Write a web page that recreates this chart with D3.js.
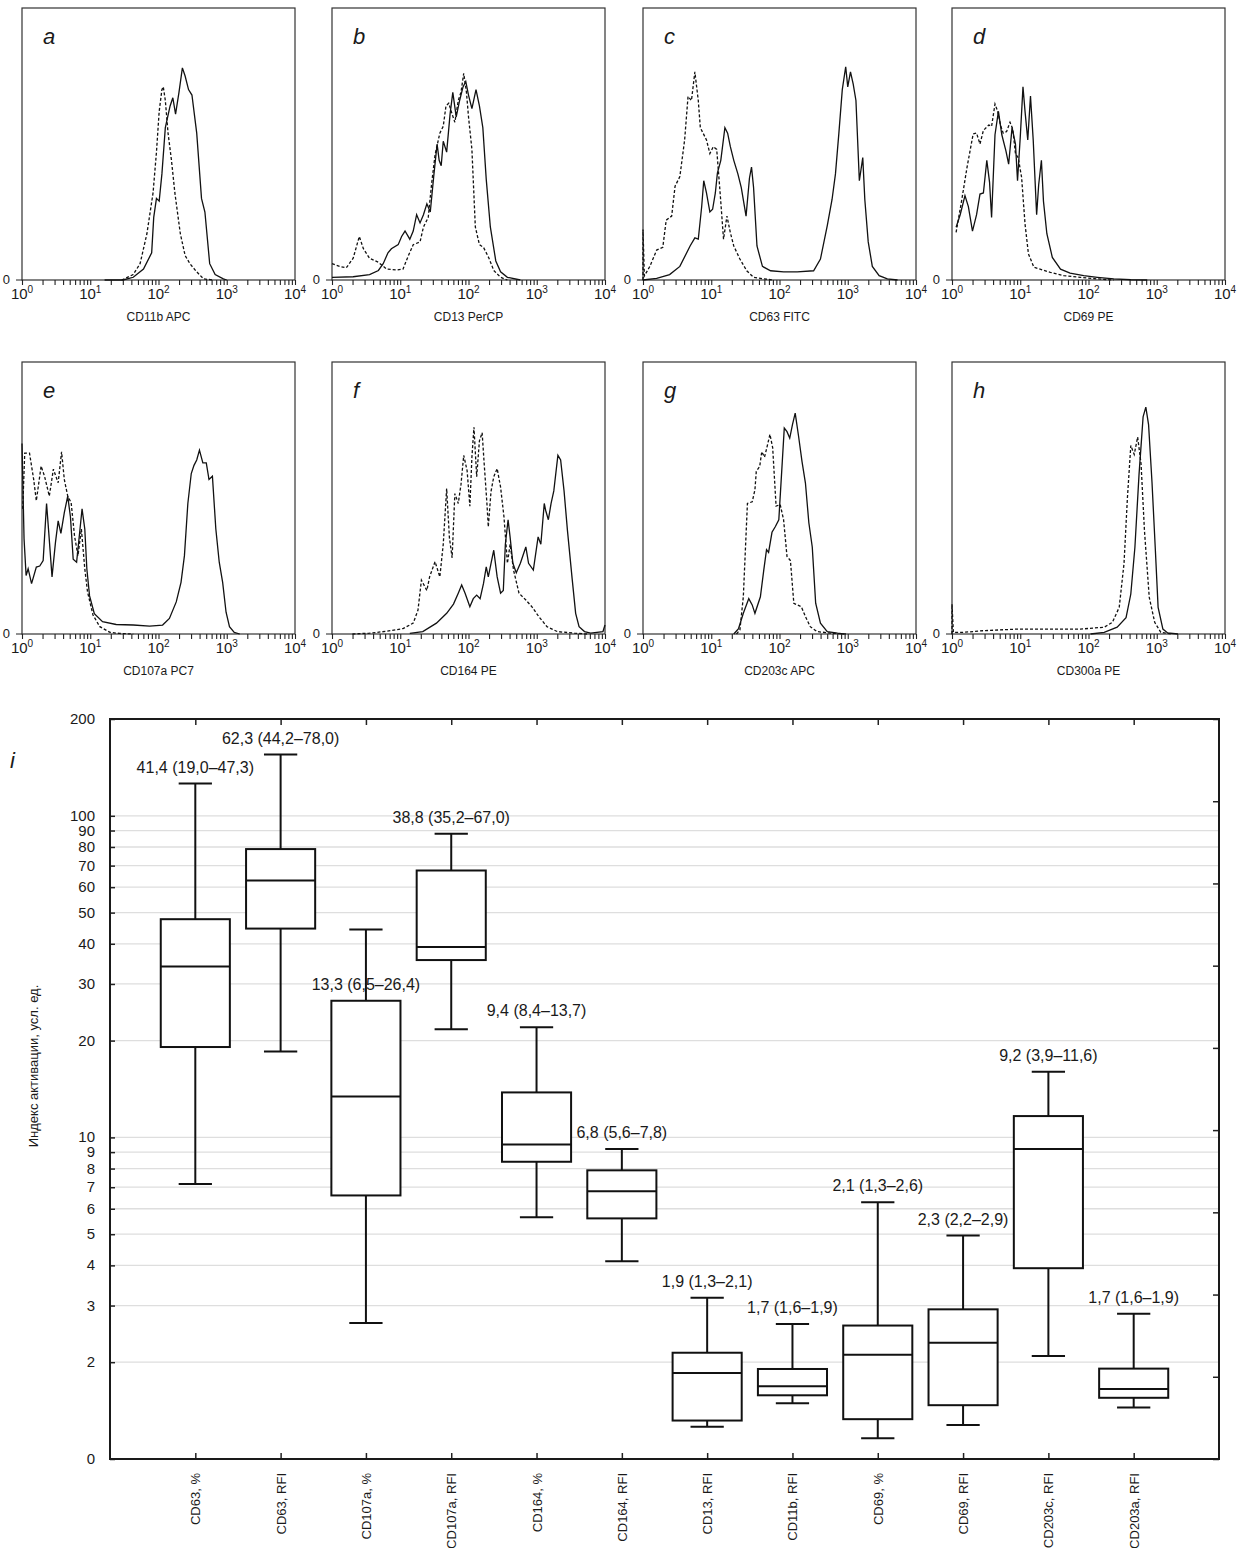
<!DOCTYPE html>
<html>
<head>
<meta charset="utf-8">
<script src="https://cdn.jsdelivr.net/npm/d3@7"></script>
<style>
  body { margin: 0; background: #fff; }
  svg { display: block; }
  text { font-family: "Liberation Sans Narrow", "Liberation Sans", Arial, sans-serif; fill: #1a1a1a; }
</style>
</head>
<body>
<div id="chart"></div>
<script>
// Histogram curves: [position in decades (log10 of intensity), height in % of panel]
const aSolid = [[1.21,0],[1.48,0],[1.63,1],[1.78,4],[1.90,10],[1.93,23],[1.97,30],[2.01,29],[2.05,39],[2.10,56],[2.17,64],[2.21,67],[2.25,61],[2.30,69],[2.35,78],[2.39,75],[2.44,70],[2.49,68],[2.56,54],[2.63,30],[2.68,25],[2.75,6],[2.83,2],[2.95,0.4],[3.0,0]];
const aDashed = [[1.46,0],[1.63,2],[1.73,6],[1.83,17],[1.92,32],[1.97,47],[2.01,62],[2.05,70],[2.07,71],[2.10,66],[2.14,54],[2.19,44],[2.24,32],[2.32,17],[2.39,9],[2.46,6],[2.56,3],[2.66,0.4],[2.81,0]];

const bSolid = [[0,1],[0.31,1.2],[0.55,2],[0.68,3.5],[0.75,6],[0.82,10],[0.87,11.5],[0.97,13],[1.02,16],[1.07,18],[1.14,15],[1.19,18],[1.24,24],[1.29,21],[1.34,24],[1.39,28],[1.44,25],[1.49,38],[1.54,50],[1.57,44],[1.60,42],[1.63,51],[1.68,47],[1.73,61],[1.77,69],[1.82,60],[1.87,66],[1.92,71],[1.96,73],[2.00,68],[2.05,63],[2.11,70],[2.16,64],[2.21,56],[2.26,37],[2.32,19.5],[2.40,7],[2.47,3],[2.57,1],[2.76,0]];
const bDashed = [[0,6],[0.11,5],[0.21,4.5],[0.31,8],[0.40,16],[0.46,11.5],[0.55,8],[0.68,6.5],[0.80,4],[0.95,3.7],[1.04,4],[1.12,9],[1.19,13],[1.29,14],[1.34,19.5],[1.41,23],[1.46,35.5],[1.51,46],[1.58,54],[1.63,56.5],[1.67,64],[1.71,65],[1.76,61],[1.80,58],[1.85,66],[1.89,69],[1.93,76],[1.97,69],[2.00,60],[2.05,48],[2.10,19.5],[2.16,13],[2.22,12],[2.30,8],[2.37,3.5],[2.47,1],[2.57,0]];

const cSolid = [[0,0],[0.20,0.6],[0.39,2],[0.54,5],[0.69,12.5],[0.76,15.5],[0.81,15],[0.86,27],[0.89,36.5],[0.93,32],[0.98,25],[1.02,26],[1.06,32],[1.09,39.3],[1.14,44],[1.20,56],[1.24,54],[1.28,49],[1.33,44],[1.39,39],[1.44,34],[1.51,23.5],[1.56,37.5],[1.59,41.5],[1.62,34],[1.67,12.5],[1.75,5],[1.87,3.4],[2.06,3],[2.26,3],[2.50,3.4],[2.60,7.7],[2.70,20],[2.77,29.6],[2.82,39],[2.87,54],[2.92,70],[2.97,78.4],[3.00,71],[3.04,76.5],[3.08,72],[3.12,66],[3.17,36.5],[3.22,45],[3.25,29.6],[3.30,14],[3.36,5],[3.46,1.6],[3.58,0.4],[3.73,0]];
const cDashed = [[0,0],[0,18.6],[0.02,1.5],[0.10,5],[0.20,11],[0.29,12],[0.34,22],[0.42,23.5],[0.47,34.5],[0.54,38],[0.61,51.5],[0.66,67.5],[0.71,66],[0.76,76.5],[0.81,66],[0.84,56],[0.88,54],[0.93,51.5],[0.98,46.5],[1.03,49],[1.08,48],[1.13,32],[1.18,15],[1.23,23.5],[1.28,17.4],[1.33,12.5],[1.42,7.7],[1.52,3.4],[1.62,1],[1.77,0.4],[1.91,0]];

const dSolid = [[0.06,19.4],[0.12,24],[0.19,31],[0.24,27],[0.30,18],[0.36,24],[0.41,31.6],[0.46,32],[0.51,44],[0.55,36],[0.58,23],[0.63,53.4],[0.68,62],[0.73,53.4],[0.79,47.5],[0.83,42.6],[0.88,56],[0.93,50],[0.96,36.5],[1.00,52.5],[1.04,71],[1.07,62],[1.11,51.5],[1.15,67.6],[1.19,51.5],[1.24,24],[1.27,35],[1.31,44],[1.34,29],[1.39,17],[1.47,8.3],[1.59,4],[1.73,2.5],[1.93,1.6],[2.13,1],[2.37,0.4],[2.62,0.1],[2.86,0]];
const dDashed = [[0.06,17.5],[0.14,29],[0.22,41.4],[0.31,53.7],[0.36,54],[0.41,50],[0.46,55],[0.54,57],[0.58,56.5],[0.63,64.7],[0.67,62],[0.71,57],[0.75,54],[0.80,54.6],[0.85,58],[0.89,55.5],[0.93,46.4],[0.97,45],[1.02,37.7],[1.07,20.6],[1.12,9.6],[1.20,4.7],[1.29,4],[1.44,2.8],[1.64,1.6],[1.88,1],[2.13,0.4],[2.37,0]];

const eSolid = [[0,70],[0.03,35],[0.06,21.5],[0.09,24],[0.14,18.5],[0.21,24.6],[0.26,25],[0.31,27],[0.36,48],[0.39,38],[0.44,21],[0.49,33.6],[0.53,41.6],[0.57,37],[0.62,44.6],[0.67,50.7],[0.71,43],[0.75,27.5],[0.80,26.4],[0.85,38.6],[0.88,46],[0.92,38.6],[0.95,24],[0.99,14],[1.06,7.5],[1.18,4.5],[1.38,3.5],[1.63,3.3],[1.87,2.9],[2.06,3.3],[2.16,5.7],[2.26,11.8],[2.33,19],[2.38,28.8],[2.43,48],[2.48,59],[2.52,62],[2.56,64],[2.60,67.6],[2.65,62.9],[2.70,62.9],[2.74,56.8],[2.79,58],[2.84,38.6],[2.89,26.4],[2.94,19],[2.99,8],[3.04,2.7],[3.11,0.6],[3.19,0]];
const eDashed = [[0.01,46],[0.04,66.5],[0.11,66.5],[0.17,57],[0.21,49],[0.28,61.7],[0.33,58],[0.40,50.7],[0.46,60.6],[0.53,55.6],[0.58,67],[0.62,56.8],[0.67,50.7],[0.72,48.3],[0.77,36],[0.82,28.8],[0.87,38.6],[0.92,24],[0.96,15.5],[1.04,7],[1.14,2.7],[1.29,0.6],[1.43,0.2],[1.63,0]];

const fSolid = [[1.14,0.2],[1.33,0.9],[1.53,4],[1.68,7.6],[1.78,11],[1.85,15],[1.90,18],[1.95,15],[2.02,10],[2.07,13],[2.12,14.3],[2.17,13],[2.22,18.6],[2.26,24.7],[2.29,21],[2.33,26],[2.37,30.8],[2.42,21],[2.47,15],[2.51,16],[2.54,33],[2.58,42],[2.61,35.5],[2.65,26],[2.70,22.5],[2.76,26],[2.84,32],[2.88,26],[2.95,23.5],[3.02,35.7],[3.06,33],[3.11,48],[3.13,45.5],[3.17,42],[3.21,48],[3.25,52.6],[3.31,65.7],[3.35,64],[3.40,52.6],[3.45,38],[3.52,20],[3.57,7.6],[3.62,2.7],[3.70,0.9],[3.79,0.3],[3.97,0.9],[4.0,3.3]];
const fDashed = [[0.30,0],[0.55,0.3],[0.80,1],[1.04,2],[1.19,4],[1.26,8.8],[1.31,19.8],[1.39,16],[1.43,21],[1.51,26.6],[1.58,21],[1.63,33],[1.68,53.5],[1.72,35.5],[1.76,28],[1.80,51.6],[1.85,48],[1.89,55],[1.93,65.7],[1.98,60],[2.02,47],[2.05,65],[2.08,76],[2.12,57.8],[2.16,71],[2.20,74],[2.23,62.5],[2.27,48],[2.29,39.4],[2.33,52.4],[2.37,57.8],[2.42,60.8],[2.47,54],[2.52,43],[2.57,26],[2.61,33],[2.66,23.5],[2.74,15],[2.84,12.5],[2.93,10],[3.03,6.4],[3.15,2.7],[3.30,0.9],[3.55,0.3],[3.74,0]];

const gSolid = [[1.33,0],[1.40,2],[1.47,7.6],[1.55,13],[1.60,10.7],[1.64,7.6],[1.72,13.7],[1.77,23.6],[1.81,31],[1.84,30],[1.89,37.4],[1.94,39.5],[1.99,42],[2.04,63],[2.07,75.7],[2.11,74.4],[2.15,72],[2.19,77],[2.23,81.2],[2.28,72.6],[2.33,63.4],[2.38,55.5],[2.43,40.9],[2.48,32],[2.53,11.3],[2.60,4],[2.70,0.9],[2.85,0.3],[2.94,0]];
const gDashed = [[1.37,0],[1.42,1.5],[1.47,13.7],[1.53,48],[1.60,48.6],[1.64,53],[1.66,59.8],[1.71,61.6],[1.74,67],[1.78,65],[1.81,68],[1.86,73.4],[1.90,68.5],[1.95,47],[2.01,47.6],[2.06,42],[2.11,28.5],[2.16,27],[2.21,11.3],[2.26,10.7],[2.32,10],[2.38,6.4],[2.45,2.7],[2.55,0.9],[2.75,0.3],[2.99,0]];

const hSolid = [[2.03,0],[2.23,0.6],[2.42,2.5],[2.55,6],[2.62,14.7],[2.68,31.9],[2.74,58.5],[2.80,79.8],[2.84,83.4],[2.88,77],[2.93,56],[2.98,30.7],[3.02,9.8],[3.09,1.8],[3.16,0.4],[3.31,0]];
const hDashed = [[0,0],[0,11],[0.02,0.6],[0.16,0.6],[0.45,1.2],[0.95,1.8],[1.39,1.8],[1.88,1.8],[2.23,2.5],[2.35,4.3],[2.45,9.8],[2.52,25.8],[2.57,50],[2.62,69.3],[2.67,66],[2.72,72.4],[2.77,62.6],[2.82,38],[2.89,13.5],[2.97,4.3],[3.06,0.6],[3.21,0]];

const panelLetters = ["a","b","c","d","e","f","g","h"];
const panelTitles = ["CD11b APC","CD13 PerCP","CD63 FITC","CD69 PE","CD107a PC7","CD164 PE","CD203c APC","CD300a PE"];
const panelSolid = [aSolid,bSolid,cSolid,dSolid,eSolid,fSolid,gSolid,hSolid];
const panelDashed = [aDashed,bDashed,cDashed,dDashed,eDashed,fDashed,gDashed,hDashed];
const decades = [1,10,100,1000,10000];

// Box plot (panel i)
const categories = ["CD63, %","CD63, RFI","CD107a, %","CD107a, RFI","CD164, %","CD164, RFI","CD13, RFI","CD11b, RFI","CD69, %","CD69, RFI","CD203c, RFI","CD203a, RFI"];
const whiskerHigh = [126,155,44.3,87.9,22,9.2,3.17,2.63,6.29,4.95,16.0,2.83];
const q3 = [47.7,78.8,26.6,67.6,13.8,7.9,2.14,1.905,2.60,2.92,11.65,1.91];
const medians = [34.0,62.9,13.4,39.1,9.5,6.8,1.85,1.685,2.11,2.30,9.2,1.65];
const q1 = [19.1,44.6,6.6,35.6,8.4,5.6,1.317,1.578,1.33,1.47,3.92,1.55];
const whiskerLow = [7.16,18.5,2.65,21.7,5.65,4.12,1.26,1.49,1.16,1.275,2.09,1.446];
const boxLabels = ["41,4 (19,0–47,3)","62,3 (44,2–78,0)","13,3 (6,5–26,4)","38,8 (35,2–67,0)","9,4 (8,4–13,7)","6,8 (5,6–7,8)","1,9 (1,3–2,1)","1,7 (1,6–1,9)","2,1 (1,3–2,6)","2,3 (2,2–2,9)","9,2 (3,9–11,6)","1,7 (1,6–1,9)"];
const yTickValues = [1,2,3,4,5,6,7,8,9,10,20,30,40,50,60,70,80,90,100,200];

const width = 1243;
const height = 1548;

const svg = d3.select('#chart')
    .append('svg')
    .attr('width', width)
    .attr('height', height);

// ---- histograms ----
const colLeft = [22, 332, 643, 952];
const rowTop = [8, 362];
const pw = 273, ph = 272;

const line = (x, y) => d3.line()
    .x(d => x(Math.pow(10, d[0])))
    .y(d => y(d[1]));

panelLetters.forEach((letter, i) => {
    const left = colLeft[i % 4];
    const top = rowTop[Math.floor(i / 4)];
    const x = d3.scaleLog().domain([1, 1e4]).range([left, left + pw]);
    const y = d3.scaleLinear().domain([0, 100]).range([top + ph, top]);
    const g = svg.append('g');

    g.append('rect')
        .attr('x', left).attr('y', top)
        .attr('width', pw).attr('height', ph)
        .attr('fill', 'none')
        .attr('stroke', '#333')
        .attr('stroke-width', 1.2);

    // log axis with minor ticks
    const ax = g.append('g')
        .attr('transform', `translate(0,${top + ph})`)
        .call(d3.axisBottom(x).tickValues(x.ticks()).tickSize(5).tickFormat(''));
    ax.select('.domain').remove();
    ax.selectAll('line').attr('stroke', '#222').attr('stroke-width', 1.1);

    decades.forEach((v, k) => {
        const t = g.append('text')
            .attr('x', x(v))
            .attr('y', top + ph + 19)
            .attr('text-anchor', 'middle')
            .style('font-size', '15px');
        t.append('tspan').text('10');
        t.append('tspan').attr('dy', -6).style('font-size', '10px').text(k);
    });

    // zero on the count axis
    g.append('line')
        .attr('x1', left - 6).attr('x2', left)
        .attr('y1', top + ph).attr('y2', top + ph)
        .attr('stroke', '#222');
    g.append('text')
        .attr('x', left - 12)
        .attr('y', top + ph + 4)
        .attr('text-anchor', 'end')
        .style('font-size', '13px')
        .text('0');

    g.append('text')
        .attr('x', left + pw / 2)
        .attr('y', top + ph + 41)
        .attr('text-anchor', 'middle')
        .style('font-size', '12px')
        .text(panelTitles[i]);

    g.append('text')
        .attr('x', left + 21)
        .attr('y', top + 36)
        .style('font-size', '22px')
        .style('font-style', 'italic')
        .text(letter);

    g.append('path')
        .attr('d', line(x, y)(panelDashed[i]))
        .attr('fill', 'none')
        .attr('stroke', '#111')
        .attr('stroke-width', 1.3)
        .attr('stroke-dasharray', '3,2');

    g.append('path')
        .attr('d', line(x, y)(panelSolid[i]))
        .attr('fill', 'none')
        .attr('stroke', '#111')
        .attr('stroke-width', 1.3);
});

// ---- box plot ----
const bl = 110, br = 1219, bt = 719, bb = 1459;
const bx = d3.scaleLinear().domain([0, categories.length + 1]).range([bl, br]);
const by = d3.scaleLog().domain([1, 200]).range([bb, bt]);
const byRight = d3.scaleLinear().domain([0, 9]).range([bb, bt]);
const step = bx(1) - bx(0);
const boxW = step * 0.81;
const capW = step * 0.39;

const bp = svg.append('g');

// grid
bp.selectAll('line.grid')
    .data(yTickValues.filter(v => v > 1 && v < 200))
    .enter().append('line')
    .attr('class', 'grid')
    .attr('x1', bl).attr('x2', br)
    .attr('y1', d => by(d)).attr('y2', d => by(d))
    .attr('stroke', '#dedede')
    .attr('stroke-width', 1.3);

// left ticks and labels
const leftAxis = bp.append('g')
    .attr('transform', `translate(${bl},0)`)
    .call(d3.axisRight(by).tickValues(yTickValues).tickSize(5).tickFormat(''));
leftAxis.select('.domain').remove();
leftAxis.selectAll('line').attr('stroke', '#222').attr('stroke-width', 1.5);

bp.selectAll('text.ylab')
    .data(yTickValues)
    .enter().append('text')
    .attr('class', 'ylab')
    .attr('x', bl - 15)
    .attr('y', d => by(d) + 5)
    .attr('text-anchor', 'end')
    .style('font-size', '15px')
    .text(d => d === 1 ? '0' : d);

// right ticks
const rightAxis = bp.append('g')
    .attr('transform', `translate(${br},0)`)
    .call(d3.axisLeft(byRight).ticks(9).tickSize(6).tickFormat(''));
rightAxis.select('.domain').remove();
rightAxis.selectAll('line').attr('stroke', '#222').attr('stroke-width', 1.5);

// top / bottom category ticks
const catIdx = d3.range(1, categories.length + 1);
const topAxis = bp.append('g')
    .attr('transform', `translate(0,${bt})`)
    .call(d3.axisBottom(bx).tickValues(catIdx).tickSize(6).tickFormat(''));
topAxis.select('.domain').remove();
topAxis.selectAll('line').attr('stroke', '#222').attr('stroke-width', 1.5);
const botAxis = bp.append('g')
    .attr('transform', `translate(0,${bb})`)
    .call(d3.axisTop(bx).tickValues(catIdx).tickSize(6).tickFormat(''));
botAxis.select('.domain').remove();
botAxis.selectAll('line').attr('stroke', '#222').attr('stroke-width', 1.5);

bp.append('rect')
    .attr('x', bl).attr('y', bt)
    .attr('width', br - bl).attr('height', bb - bt)
    .attr('fill', 'none')
    .attr('stroke', '#1a1a1a')
    .attr('stroke-width', 2);

// boxes
categories.forEach((c, i) => {
    const cx = bx(i + 1);
    const g = bp.append('g').attr('stroke', '#111').attr('stroke-width', 2).attr('fill', 'none');
    g.append('line').attr('x1', cx).attr('x2', cx).attr('y1', by(whiskerHigh[i])).attr('y2', by(q3[i]));
    g.append('line').attr('x1', cx).attr('x2', cx).attr('y1', by(q1[i])).attr('y2', by(whiskerLow[i]));
    g.append('line').attr('x1', cx - capW / 2).attr('x2', cx + capW / 2).attr('y1', by(whiskerHigh[i])).attr('y2', by(whiskerHigh[i]));
    g.append('line').attr('x1', cx - capW / 2).attr('x2', cx + capW / 2).attr('y1', by(whiskerLow[i])).attr('y2', by(whiskerLow[i]));
    g.append('rect')
        .attr('x', cx - boxW / 2).attr('y', by(q3[i]))
        .attr('width', boxW).attr('height', by(q1[i]) - by(q3[i]))
        .attr('fill', '#fff');
    g.append('line').attr('x1', cx - boxW / 2).attr('x2', cx + boxW / 2).attr('y1', by(medians[i])).attr('y2', by(medians[i]));

    // CD107a, % label sits over its box, the rest over the upper whisker
    const anchor = i === 2 ? q3[i] : whiskerHigh[i];
    bp.append('text')
        .attr('x', cx)
        .attr('y', by(anchor) - 11)
        .attr('text-anchor', 'middle')
        .style('font-size', '16px')
        .text(boxLabels[i]);

    bp.append('text')
        .attr('transform', `translate(${cx + 5},${bb + 14}) rotate(-90)`)
        .attr('text-anchor', 'end')
        .style('font-size', '13px')
        .text(c);
});

bp.append('text')
    .attr('transform', `translate(38,1066) rotate(-90)`)
    .attr('text-anchor', 'middle')
    .style('font-size', '13px')
    .text('Индекс активации, усл. ед.');

bp.append('text')
    .attr('x', 10)
    .attr('y', 768)
    .style('font-size', '22px')
    .style('font-style', 'italic')
    .text('i');
</script>
</body>
</html>
